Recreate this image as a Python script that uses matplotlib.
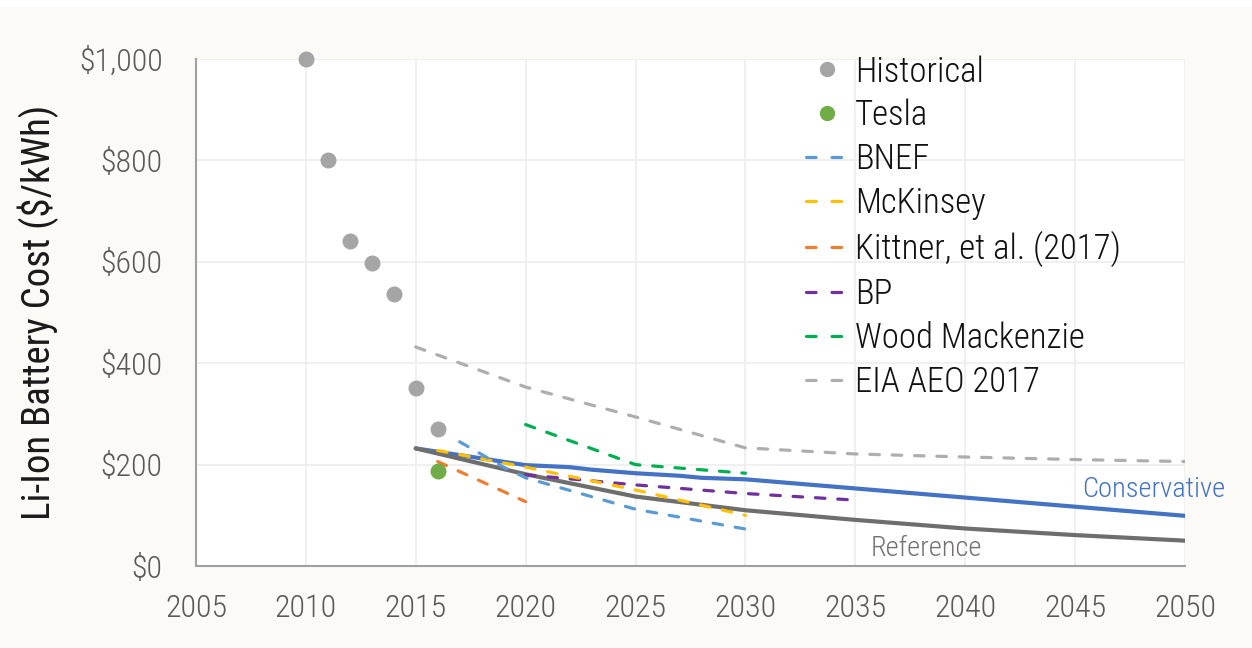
import matplotlib
matplotlib.use("Agg")
import matplotlib.pyplot as plt
from matplotlib.patches import Rectangle

plt.rcParams["font.family"] = ["Roboto Condensed", "DejaVu Sans"]
plt.rcParams["font.weight"] = "light"

# historical & Tesla points
hist_years = [2010, 2011, 2012, 2013, 2014, 2015, 2016]
hist_cost = [1000, 800, 641, 597, 537, 351, 270]
tesla_years = [2016]
tesla_cost = [188]

# outside forecasts (dashed)
bnef_years = [2017, 2018, 2019, 2020, 2025, 2030]
bnef_cost = [245, 220, 195, 174, 112, 73]
mck_years = [2016, 2020, 2025, 2030]
mck_cost = [228, 195, 150, 100]
kitt_years = [2016, 2020]
kitt_cost = [206, 127]
bp_years = [2020, 2025, 2030, 2035]
bp_cost = [180, 160, 143, 130]
wood_years = [2020, 2025, 2030]
wood_cost = [279, 200, 183]
eia_years = [2015, 2020, 2025, 2030, 2035, 2040, 2045, 2050]
eia_cost = [432, 353, 294, 233, 221, 215, 210, 206]

# study scenarios (solid)
cons_years = [2015, 2020, 2022, 2023, 2025, 2027, 2028, 2030, 2035, 2040, 2045, 2050]
cons_cost = [232, 199, 195, 190, 183, 178, 174, 171, 153, 135, 117, 99]
ref_years = [2015, 2020, 2025, 2030, 2035, 2040, 2045, 2050]
ref_cost = [232, 181, 137, 110, 91, 74, 61, 50]

y_ticks = [0, 200, 400, 600, 800, 1000]
x_ticks = list(range(2005, 2051, 5))

fig = plt.figure(figsize=(12.52, 6.48), dpi=100, facecolor="#FBFAF6")
fig.patches.append(Rectangle((0, 0.989), 1, 0.011, transform=fig.transFigure,
                             facecolor="white", edgecolor="none", zorder=0))
ax = fig.add_axes([0.1565, 0.1265, 0.79, 0.7825])
ax.set_facecolor("white")

dash_kw = dict(lw=2.3, linestyle=(0, (3.0, 4.0)), dash_capstyle="round")
ax.plot(eia_years, eia_cost, color="#B0ADAD", **dash_kw, zorder=2)
ax.plot(wood_years, wood_cost, color="#00B050", **dash_kw, zorder=2)
ax.plot(cons_years, cons_cost, color="#4472C4", lw=3.0, solid_capstyle="round", zorder=3)
ax.plot(ref_years, ref_cost, color="#6E6E6E", lw=3.0, solid_capstyle="round", zorder=3)
ax.plot(bp_years, bp_cost, color="#7030A0", **dash_kw, zorder=4)
ax.plot(kitt_years, kitt_cost, color="#ED7D31", **dash_kw, zorder=4)
ax.plot(mck_years, mck_cost, color="#FFC000", **dash_kw, zorder=4)
ax.plot(bnef_years, bnef_cost, color="#5B9BD5", **dash_kw, zorder=4)
ax.scatter(hist_years, hist_cost, s=110, color="#A5A5A5", zorder=5, clip_on=False)
ax.scatter(tesla_years, tesla_cost, s=110, color="#70AD47", zorder=5, clip_on=False)

# legend built from proxy handles in reference order
h_hist = plt.Line2D([], [], ls="none", marker="o", ms=10, color="#A5A5A5")
h_tesla = plt.Line2D([], [], ls="none", marker="o", ms=10, color="#70AD47")
def dash(c):
    return plt.Line2D([], [], color=c, lw=2.3, linestyle=(0, (3.0, 5.0)), dash_capstyle="round")
handles = [h_hist, h_tesla, dash("#5B9BD5"), dash("#FFC000"), dash("#ED7D31"),
           dash("#7030A0"), dash("#00B050"), dash("#B0ADAD")]
labels = ["Historical", "Tesla", "BNEF", "McKinsey", "Kittner, et al. (2017)",
          "BP", "Wood Mackenzie", "EIA AEO 2017"]
leg = fig.legend(handles, labels, loc="upper left", bbox_to_anchor=(0.644, 0.915),
                 frameon=False, fontsize=25, handlelength=1.17, handletextpad=0.23,
                 labelspacing=0.3, borderaxespad=0, borderpad=0)
for t in leg.get_texts():
    t.set_color("#111111")

ax.text(2045.3, 150, "Conservative", color="#4472C4", fontsize=20.5, va="center", ha="left")
ax.text(2035.7, 35, "Reference", color="#767171", fontsize=20.5, va="center", ha="left")

ax.set_xlim(2005, 2050)
ax.set_ylim(0, 1000)
ax.set_xticks(x_ticks)
ax.set_yticks(y_ticks)
ax.set_yticklabels([f"${v:,}" for v in y_ticks])
ax.tick_params(length=0, labelsize=23, labelcolor="#595959")
ax.tick_params(axis="y", pad=24)
ax.tick_params(axis="x", pad=20)
ax.grid(True, color="#EDEDED", lw=1.2)
ax.set_axisbelow(True)
for side in ["top", "right"]:
    ax.spines[side].set_visible(False)
for side in ["left", "bottom"]:
    ax.spines[side].set_color("#A0A0A0")
    ax.spines[side].set_linewidth(1.5)
ax.set_ylabel("Li-Ion Battery Cost ($/kWh)", fontsize=28, color="#1A1A1A", labelpad=14)

fig.savefig("out.png", dpi=100, facecolor=fig.get_facecolor())
